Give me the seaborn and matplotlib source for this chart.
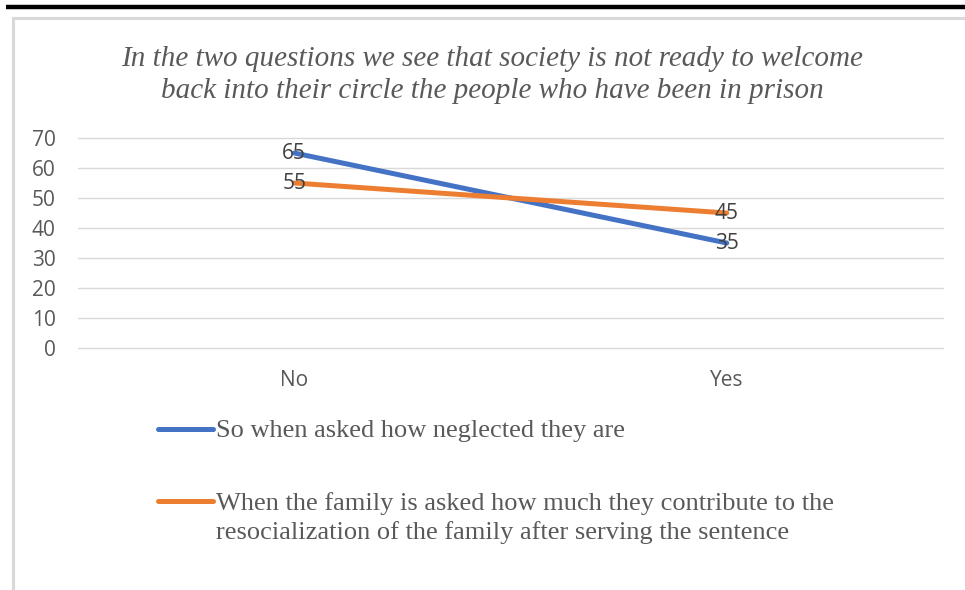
import matplotlib
matplotlib.use("Agg")
import matplotlib.pyplot as plt
import seaborn as sns
import pandas as pd
from matplotlib.patches import Rectangle
from matplotlib.lines import Line2D

categories = ["No", "Yes"]
series_names = [
    "So when asked how neglected they are",
    "When the family is asked how much they contribute to the\nresocialization of the family after serving the sentence",
]
neglected = [65, 35]
family = [55, 45]
yticks = [0, 10, 20, 30, 40, 50, 60, 70]
title = ("In the two questions we see that society is not ready to welcome\n"
         "back into their circle the people who have been in prison")

df = pd.DataFrame({
    "cat": categories * 2,
    "val": neglected + family,
    "series": [series_names[0]] * 2 + [series_names[1]] * 2,
})

sns.set_theme(style="white")
plt.rcParams["font.family"] = ["Open Sans", "DejaVu Sans"]

W, H = 965, 590
fig = plt.figure(figsize=(W / 100, H / 100), dpi=100)

# frame decorations
fig.add_artist(Line2D([6 / W, 1], [1 - 7 / H, 1 - 7 / H], transform=fig.transFigure,
                      color="black", linewidth=3.2, solid_capstyle="butt"))
fig.add_artist(Rectangle((13 / W, -0.1), 1.2, 1 - 18 / H + 0.1, transform=fig.transFigure,
                         fill=False, edgecolor="#D9D9D9", linewidth=2.2))

ax = fig.add_axes([78 / W, 1 - 348 / H, (943 - 78) / W, (348 - 138) / H])
palette = {series_names[0]: "#4472C4", series_names[1]: "#ED7D31"}
sns.lineplot(data=df, x="cat", y="val", hue="series", palette=palette,
             linewidth=3.6, sort=False, ax=ax, legend=True)

ax.set_xlim(-0.5, 1.5)
ax.set_ylim(0, 70)
ax.set_yticks(yticks)
ax.set_xlabel("")
ax.set_ylabel("")
ax.grid(axis="y", color="#D9D9D9", linewidth=1.0)
for gl in ax.get_ygridlines():
    gl.set_clip_on(False)
ax.set_axisbelow(True)
for s in ax.spines.values():
    s.set_visible(False)
ax.tick_params(axis="y", length=0, pad=16, labelsize=15, labelcolor="#595959")
ax.tick_params(axis="x", length=0, pad=15.5, labelsize=15, labelcolor="#595959")

for i, c in enumerate(categories):
    for vals in (neglected, family):
        ax.text(i, vals[i], str(vals[i]), ha="center", va="center",
                fontsize=15, color="#404040")

handles, labels = ax.get_legend_handles_labels()
ax.get_legend().remove()
leg = fig.legend(handles, labels, loc="upper left", bbox_to_anchor=(134 / W, 1 - 396 / H),
                 frameon=False, handlelength=2.1, handletextpad=0.12, labelspacing=1.89,
                 prop={"family": "Liberation Serif", "size": 19})
for t in leg.get_texts():
    t.set_color("#595959")
    t.set_linespacing(1.35)
for h in leg.get_lines():
    h.set_linewidth(3.6)
# align each handle with the first line of its label
try:
    for col in leg._legend_handle_box.get_children():
        for row in col.get_children():
            row.align = "top"
except Exception:
    pass

fig.text(492 / W, 1 - 75 / H, title, ha="center", va="center", fontsize=21,
         family="Liberation Serif", style="italic", color="#595959", linespacing=1.33)

fig.savefig("out.png", dpi=100)
